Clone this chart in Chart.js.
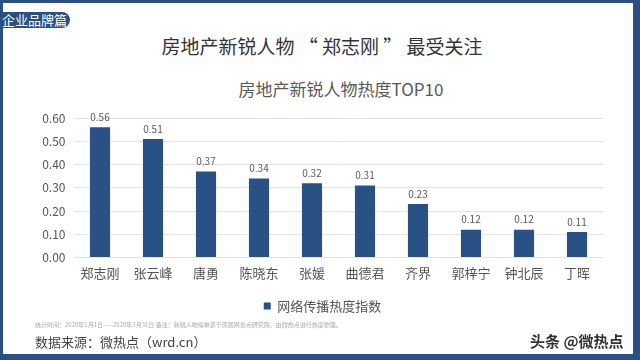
<!DOCTYPE html>
<html>
<head>
<meta charset="utf-8">
<script src="https://cdn.jsdelivr.net/npm/chart.js@4"></script>
<style>
  html, body { margin: 0; padding: 0; background: #fff; }
  body { width: 640px; height: 360px; position: relative; overflow: hidden;
         font-family: "Noto Sans CJK SC", "Noto Sans", sans-serif; }
  .frame { position: absolute; left: 0; top: 0; width: 640px; height: 360px; box-sizing: border-box;
           border-style: solid; border-color: #2b4f80; border-width: 3px 7px 6px 3px; }
  .badge { position: absolute; left: 0; top: 12px; width: 70px; height: 16px; background: #2b4f80;
           color: #fff; font-size: 13px; line-height: 16px; border-radius: 0 8px 8px 0; padding-left: 2px; box-sizing: border-box; }
  .title { position: absolute; left: 0; width: 640px; text-align: center; color: #333; }
  .note { position: absolute; left: 35px; color: #999; white-space: nowrap; }
  #wrap { position: absolute; left: 0; top: 0; width: 640px; height: 360px; }
</style>
</head>
<body>
<div class="frame"></div>
<div class="badge">企业品牌篇</div>
<div class="title" style="top:32px;font-size:19px;left:2px;">房地产新锐人物 “ 郑志刚 ” 最受关注</div>
<div class="title" style="top:76px;font-size:17px;left:21px;color:#595959;">房地产新锐人物热度TOP10</div>
<div id="wrap"><canvas id="chart"></canvas></div>
<div class="note" style="top:320px;font-size:6px;color:#aaa;">统计时间：2020年1月1日——2020年3月31日 备注：新锐人物榜单源于凤凰网食点研究院，由微热点进行热度整理。</div>
<div class="note" style="top:332px;font-size:13px;color:#444;">数据来源：微热点（wrd.cn）</div>
<div class="note" style="left:530px;top:330px;font-size:15px;color:#333;font-weight:bold;">头条 @微热点</div>
<script>
  // 热度TOP10
  const names = ['郑志刚', '张云峰', '唐勇', '陈晓东', '张媛', '曲德君', '齐界', '郭梓宁', '钟北辰', '丁晖'];
  const heat = [0.56, 0.51, 0.37, 0.34, 0.32, 0.31, 0.23, 0.12, 0.12, 0.11];
  const yTicks = [0, 0.1, 0.2, 0.3, 0.4, 0.5, 0.6];

  // value labels above bars
  const valueLabels = {
    id: 'valueLabels',
    afterDatasetsDraw(chart) {
      const ctx = chart.ctx;
      ctx.save();
      ctx.font = '10px "Noto Sans CJK SC", sans-serif';
      ctx.fillStyle = '#595959';
      ctx.textAlign = 'center';
      ctx.textBaseline = 'middle';
      chart.getDatasetMeta(0).data.forEach((bar, i) => {
        ctx.fillText(heat[i].toFixed(2), bar.x, bar.y - 10);
      });
      ctx.restore();
    }
  };

  new Chart(document.getElementById('chart'), {
    type: 'bar',
    data: {
      labels: names,
      datasets: [{
        label: '网络传播热度指数',
        data: heat,
        backgroundColor: '#2a5185',
        barPercentage: 0.38,
        categoryPercentage: 1
      }]
    },
    options: {
      responsive: true,
      maintainAspectRatio: false,
      animation: false,
      layout: { padding: { left: 41.5, right: 36.5, top: 118, bottom: 37.4 } },
      plugins: {
        legend: {
          position: 'bottom',
          labels: {
            boxWidth: 7, boxHeight: 7, color: '#555',
            font: { family: '"Noto Sans CJK SC", sans-serif', size: 13 }
          }
        },
        tooltip: { enabled: false }
      },
      scales: {
        x: {
          grid: { display: false, drawTicks: false },
          border: { display: false },
          ticks: { color: '#555', padding: 8, font: { family: '"Noto Sans CJK SC", sans-serif', size: 13 } },
          afterFit: s => { s.height = 32; }
        },
        y: {
          min: 0, max: 0.6,
          afterBuildTicks: s => { s.ticks = yTicks.map(v => ({ value: v })); },
          grid: { color: '#e4e4e4', drawTicks: false },
          border: { display: false },
          ticks: {
            color: '#555', padding: 8,
            font: { family: '"Noto Sans CJK SC", sans-serif', size: 12 },
            callback: v => v.toFixed(2)
          },
          afterFit: s => { s.width = 32; }
        }
      }
    },
    plugins: [valueLabels]
  });
</script>
</body>
</html>
